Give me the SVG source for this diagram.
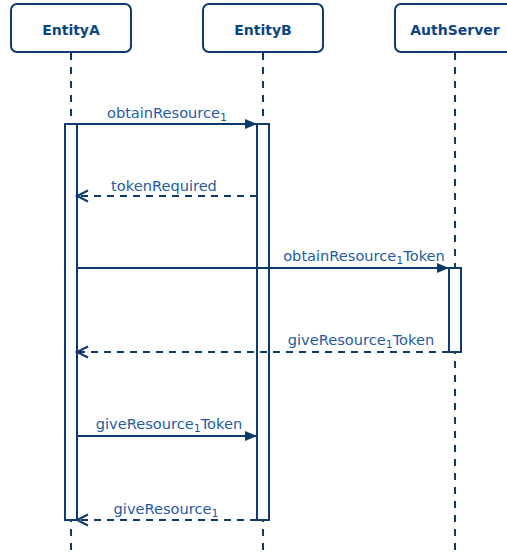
<svg xmlns="http://www.w3.org/2000/svg" width="507" height="552" viewBox="0 0 507 552">
<style>
.hdr{fill:#fff;stroke:#0e3a6b;stroke-width:2}
.hdrt{font-family:"DejaVu Sans","Verdana",sans-serif;font-weight:bold;font-size:14px;fill:#0d4683;text-anchor:middle}
.life{stroke:#0e3a6b;stroke-width:2;stroke-dasharray:7,7;fill:none}
.act{fill:#fff;stroke:#0e3a6b;stroke-width:2}
.msg{stroke:#0e3a6b;stroke-width:2;fill:none}
.ret{stroke:#0e3a6b;stroke-width:2;fill:none;stroke-dasharray:7,6}
.lbl{font-family:"DejaVu Sans","Verdana",sans-serif;font-size:14.6px;fill:#1f5ba2;text-anchor:middle}
.sub{font-size:11px}
</style>
<defs>
<marker id="filled" viewBox="0 0 12 10" refX="12" refY="5" markerWidth="12" markerHeight="10" markerUnits="userSpaceOnUse" orient="auto" overflow="visible">
<path d="M0,0 L12,5 L0,10 Z" fill="#0e3a6b" stroke="none"/>
</marker>
<marker id="open" viewBox="0 0 12 12" refX="11" refY="6" markerWidth="12" markerHeight="12" markerUnits="userSpaceOnUse" orient="auto" overflow="visible">
<path d="M0,0.5 L11,6 L0,11.5" fill="none" stroke="#0e3a6b" stroke-width="2" stroke-dasharray="none"/>
</marker>
</defs>
<g id="lifelines">
<line class="life" x1="71" y1="53" x2="71" y2="552"/>
<line class="life" x1="263" y1="53" x2="263" y2="552"/>
<line class="life" x1="455" y1="53" x2="455" y2="552"/>
</g>
<g id="EntityA">
<rect class="hdr" x="11" y="4" width="120" height="48" rx="6"/>
<text class="hdrt" x="71" y="35">EntityA</text>
<rect class="act" x="65" y="124" width="12" height="396"/>
</g>
<g id="EntityB">
<rect class="hdr" x="203" y="4" width="120" height="48" rx="6"/>
<text class="hdrt" x="263" y="35">EntityB</text>
<rect class="act" x="257" y="124" width="12" height="396"/>
</g>
<g id="AuthServer">
<rect class="hdr" x="395" y="4" width="120" height="48" rx="6"/>
<text class="hdrt" x="455" y="35">AuthServer</text>
<rect class="act" x="449" y="268" width="12" height="84"/>
</g>
<g id="connectors">
<line class="msg" x1="77" y1="124" x2="257" y2="124" marker-end="url(#filled)"/>
<text class="lbl" x="167" y="118">obtainResource<tspan class="sub" dy="3">1</tspan></text>
<line class="ret" x1="257" y1="196" x2="77" y2="196" marker-end="url(#open)"/>
<text class="lbl" x="164" y="191">tokenRequired</text>
<line class="msg" x1="77" y1="268" x2="449" y2="268" marker-end="url(#filled)"/>
<text class="lbl" x="364" y="261">obtainResource<tspan class="sub" dy="3">1</tspan><tspan dy="-3">Token</tspan></text>
<line class="ret" x1="449" y1="352" x2="77" y2="352" marker-end="url(#open)"/>
<text class="lbl" x="361" y="345">giveResource<tspan class="sub" dy="3">1</tspan><tspan dy="-3">Token</tspan></text>
<line class="msg" x1="77" y1="436" x2="257" y2="436" marker-end="url(#filled)"/>
<text class="lbl" x="169" y="429">giveResource<tspan class="sub" dy="3">1</tspan><tspan dy="-3">Token</tspan></text>
<line class="ret" x1="257" y1="520" x2="77" y2="520" marker-end="url(#open)"/>
<text class="lbl" x="166" y="514">giveResource<tspan class="sub" dy="3">1</tspan></text>
</g>
</svg>
